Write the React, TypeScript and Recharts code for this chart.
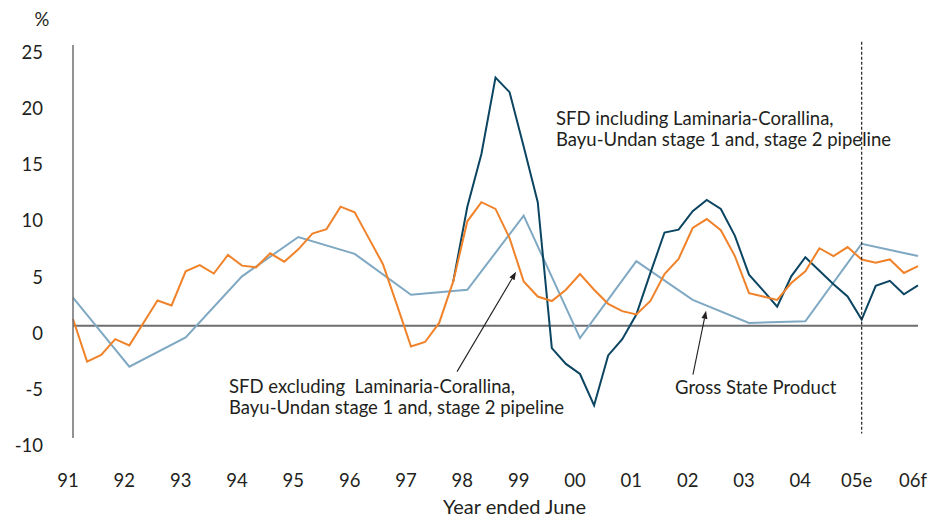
import React from 'react';
import { LineChart, Line, XAxis, YAxis, ReferenceLine, ReferenceDot, Label } from 'recharts';

// quarterly data, year ended June, 91 .. 06f
const yearLabels = ['91', '92', '93', '94', '95', '96', '97', '98', '99', '00', '01', '02', '03', '04', '05e', '06f'];

const sfdExcl = [
  0.6, -3.2, -2.6, -1.2, -1.75, 0.25, 2.25, 1.8, 4.85, 5.4, 4.65, 6.3, 5.35, 5.2, 6.45, 5.7,
  6.8, 8.2, 8.6, 10.6, 10.1, 7.8, 5.5, 1.85, -1.85, -1.45, 0.25, 3.95, 9.3, 11.0, 10.4, 7.8,
  3.95, 2.6, 2.2, 3.2, 4.6, 3.2, 1.95, 1.3, 1.0, 2.2, 4.6, 5.95, 8.7, 9.5, 8.5, 6.2,
  2.9, 2.6, 2.3, 3.8, 4.85, 6.9, 6.2, 7.0, 5.9, 5.6, 5.9, 4.7, 5.3,
];

const sfdIncl = [
  null, null, null, null, null, null, null, null, null, null, null, null, null, null, null, null,
  null, null, null, null, null, null, null, null, null, null, null, 3.95, 10.6, 15.3, 22.1, 20.8,
  15.95, 11.0, -2.0, -3.4, -4.3, -7.1, -2.65, -1.2, 1.0, 4.7, 8.3, 8.55, 10.2, 11.2, 10.4, 8.0,
  4.55, 3.15, 1.7, 4.4, 6.1, 4.9, 3.7, 2.6, 0.55, 3.55, 4.0, 2.8, 3.6,
];

// annual figures, one per June year
const gsp = [2.5, -3.65, -1.05, 4.4, 7.9, 6.4, 2.75, 3.2, 9.8, -1.1, 5.75, 2.3, 0.25, 0.4, 7.3, 6.2];

const yTicks = [-10, -5, 0, 5, 10, 15, 20, 25];

const data = sfdExcl.map((v, i) => ({
  q: i,
  excl: v,
  incl: sfdIncl[i],
  gsp: i % 4 === 0 ? gsp[i / 4] : null,
}));

const xTicks = yearLabels.map((_, i) => i * 4);

const TEXT = '#231f20';
const FONT = 'Lato, "Open Sans", sans-serif';

const XTick = ({ x, y, payload }: any) => (
  <text x={x - 5} y={y + 42} textAnchor="middle" dominantBaseline="central" fontSize={18.5} fill={TEXT} fontFamily={FONT}>
    {yearLabels[payload.value / 4]}
  </text>
);

const YTick = ({ x, y, payload }: any) => (
  <text x={x - 30} y={y + 7} textAnchor="end" dominantBaseline="central" fontSize={18.5} fill={TEXT} fontFamily={FONT}>
    {payload.value}
  </text>
);

const AnnoText = ({ cx, cy, lines }: any) => (
  <text x={cx} y={cy} fontSize={18.5} fill={TEXT} fontFamily={FONT} dominantBaseline="central" style={{ whiteSpace: 'pre' }}>
    {lines.map((l: string, i: number) => (
      <tspan key={i} x={cx} dy={i === 0 ? 0 : 21.5}>
        {l}
      </tspan>
    ))}
  </text>
);

const Arrow = (p: any) => {
  const { x1, y1, x2, y2 } = p;
  const ang = Math.atan2(y2 - y1, x2 - x1);
  const len = 8;
  const w = 3;
  const bx = x2 - len * Math.cos(ang);
  const by = y2 - len * Math.sin(ang);
  const px = -Math.sin(ang) * w;
  const py = Math.cos(ang) * w;
  return (
    <g>
      <line x1={x1} y1={y1} x2={bx} y2={by} stroke={TEXT} strokeWidth={1.1} />
      <polygon points={`${x2},${y2} ${bx + px},${by + py} ${bx - px},${by - py}`} fill={TEXT} />
    </g>
  );
};

export default function App() {
  return (
    <div style={{ position: 'absolute', left: 0, top: 0, background: '#fff' }}>
      <LineChart width={933} height={517} data={data} margin={{ top: 45, right: 15, left: 0, bottom: 0 }}>
        <XAxis
          type="number"
          dataKey="q"
          domain={[0, 60]}
          ticks={xTicks}
          interval={0}
          height={79}
          axisLine={false}
          tickLine={false}
          tickSize={0}
          tickMargin={0}
          tick={<XTick />}
        >
          <Label
            content={({ viewBox }: any) => (
              <text
                x={viewBox.x + viewBox.width / 2 + 19}
                y={viewBox.y + 68}
                textAnchor="middle"
                dominantBaseline="central"
                fontSize={20}
                fill={TEXT}
                fontFamily={FONT}
              >
                Year ended June
              </text>
            )}
          />
        </XAxis>
        <YAxis
          type="number"
          domain={[-10, 25]}
          ticks={yTicks}
          interval={0}
          width={73}
          allowDataOverflow
          axisLine={{ stroke: '#6d6e71', strokeWidth: 1.5 }}
          tickLine={false}
          tickSize={0}
          tickMargin={0}
          tick={<YTick />}
        >
          <Label
            content={({ viewBox }: any) => (
              <text
                x={viewBox.x + viewBox.width - 31}
                y={viewBox.y - 26}
                textAnchor="middle"
                dominantBaseline="central"
                fontSize={18.5}
                fill={TEXT}
                fontFamily={FONT}
              >
                %
              </text>
            )}
          />
        </YAxis>

        <ReferenceLine y={0} stroke="#6d6e71" strokeWidth={2} />

        <Line type="linear" dataKey="gsp" stroke="#7fa8c3" strokeWidth={2} dot={false} connectNulls isAnimationActive={false} />
        <Line type="linear" dataKey="incl" stroke="#0b4562" strokeWidth={2} dot={false} isAnimationActive={false} />
        <Line type="linear" dataKey="excl" stroke="#f0822a" strokeWidth={2} dot={false} isAnimationActive={false} />

        <ReferenceLine
          segment={[{ x: 56, y: 25.3 }, { x: 56, y: -9.6 }]}
          stroke={TEXT}
          strokeWidth={1.2}
          strokeDasharray="3 2"
          ifOverflow="visible"
        />

        <ReferenceLine segment={[{ x: 27.27, y: -4.09 }, { x: 31.46, y: 4.8 }]} ifOverflow="visible" shape={Arrow} />
        <ReferenceLine segment={[{ x: 44.02, y: -4.36 }, { x: 44.95, y: 1.33 }]} ifOverflow="visible" shape={Arrow} />

        <ReferenceDot
          x={34.3}
          y={18.5}
          r={0}
          ifOverflow="visible"
          shape={(p: any) => (
            <AnnoText cx={p.cx} cy={p.cy} lines={['SFD including Laminaria-Corallina,', 'Bayu-Undan stage 1 and, stage 2 pipeline']} />
          )}
        />
        <ReferenceDot
          x={11.08}
          y={-5.34}
          r={0}
          ifOverflow="visible"
          shape={(p: any) => (
            <AnnoText cx={p.cx} cy={p.cy} lines={['SFD excluding  Laminaria-Corallina,', 'Bayu-Undan stage 1 and, stage 2 pipeline']} />
          )}
        />
        <ReferenceDot
          x={42.75}
          y={-5.43}
          r={0}
          ifOverflow="visible"
          shape={(p: any) => <AnnoText cx={p.cx} cy={p.cy} lines={['Gross State Product']} />}
        />
      </LineChart>
    </div>
  );
}
